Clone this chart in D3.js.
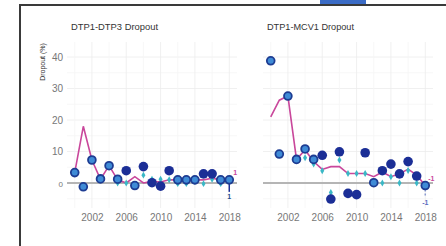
<!DOCTYPE html>
<html>
<head>
<meta charset="utf-8">
<script src="https://cdn.jsdelivr.net/npm/d3@7"></script>
<style>
  body { margin: 0; background: #fff; }
  text { font-family: "Liberation Sans", Arial, sans-serif; }
</style>
</head>
<body>
<div id="chart"></div>
<script>
// dropout panels, values
const years = d3.range(2000, 2019)
const yTicks = [0, 10, 20, 30, 40]
const xTicks = [2002, 2006, 2010, 2014, 2018]
const titles = ["DTP1-DTP3 Dropout", "DTP1-MCV1 Dropout"]

// DTP1-DTP3
const dtp3Line  = [3.3, 18, 7.3, 1.2, 5.5, 1, 0, 2, 0, 0.5, 0.3, 1, 1, 1, 1, 1, 1.5, 1, 1]
const dtp3Light = [3.3, -1.2, 7.3, 1.3, 5.5, 1.2, null, -0.8, null, null, null, null, 1, 1, 1, null, null, 1, 1]
const dtp3Dark  = [null, null, null, null, null, null, 3.9, null, 5.2, 0.1, -1, 3.9, null, null, null, 2.9, 2.9, null, null]
const dtp3Cyan  = [null, null, null, null, null, 0, 0, null, 2.5, 1.2, 1.2, 1, -0.2, -0.2, 0.5, -0.2, 1.2, -0.2, null]
const dtp3Label = ["1", "1"]

// DTP1-MCV1
const mcvLine  = [21, 26.3, 27.6, 7.5, 10.5, 6.8, 4.3, 5.2, 5.2, 3, 3, 3, 2, 3.5, 2, 2.9, 4.4, 2.5, -0.8]
const mcvLight = [38.8, 9.2, 27.6, 7.5, 10.8, 7.5, null, null, null, null, null, null, 0.1, null, null, null, null, null, -0.8]
const mcvDark  = [null, null, null, null, null, null, 8.8, -5.1, 9.9, -3.3, -3.7, 9.6, null, 3.9, 6, 2.9, 6.8, 2.2, null]
const mcvCyan  = [null, null, null, null, 8, 6, 3.9, -3, 7.3, 3, 3, 3, null, 0, 2, 0, 4, 0, null]
const mcvLabel = ["-1", "-1"]

const panels = [
  { title: titles[0], line: dtp3Line, light: dtp3Light, dark: dtp3Dark, cyan: dtp3Cyan, label: dtp3Label, x0: 67, dashed: false },
  { title: titles[1], line: mcvLine, light: mcvLight, dark: mcvDark, cyan: mcvCyan, label: mcvLabel, x0: 263, dashed: true }
]

const width = 446, height = 246
const panelW = 170
const plotTop = 42, plotBottom = 208

const svg = d3.select("#chart").append("svg")
    .attr("width", width)
    .attr("height", height)

// frame
svg.append("rect").attr("x", 320).attr("y", 0).attr("width", 46).attr("height", 4).attr("fill", "#3b6cc6")
svg.append("path")
    .attr("d", `M20,${height} V5 H${width}`)
    .attr("fill", "none").attr("stroke", "#3a3a3a").attr("stroke-width", 2)

let yScale = d3.scaleLinear()
    .domain([0, 40])
    .range([183, 57])

svg.append("text")
    .attr("transform", `translate(45,${62}) rotate(-90)`)
    .attr("text-anchor", "middle")
    .attr("font-size", 7)
    .attr("fill", "#333")
    .text("Dropout (%)")

svg.selectAll(".ytick").data(yTicks).join("text")
    .attr("class", "ytick")
    .attr("x", 63).attr("y", d => yScale(d) + 3.5)
    .attr("text-anchor", "end")
    .attr("font-size", d => d == 0 ? 8 : 10)
    .attr("fill", "#777")
    .text(d => d)

const color = { pink: "#c9479b", navy: "#1b2e96", blue: "#3f8bd6", cyan: "#3ab8c6", zero: "#b5b5b5" }

panels.forEach(p => {
    let g = svg.append("g")
    let xScale = d3.scaleLinear()
        .domain([1999.1, 2018.9])
        .range([p.x0, p.x0 + panelW])

    // grid
    let minorY = d3.range(-5, 45, 5)
    g.selectAll(".hy").data(minorY).join("line")
        .attr("x1", p.x0).attr("x2", p.x0 + panelW)
        .attr("y1", d => yScale(d)).attr("y2", d => yScale(d))
        .attr("stroke", d => d % 10 == 0 ? "#ececec" : "#f5f5f5")
        .attr("stroke-width", 0.8)
    g.selectAll(".vx").data(d3.range(2000, 2019, 2)).join("line")
        .attr("x1", d => xScale(d)).attr("x2", d => xScale(d))
        .attr("y1", plotTop).attr("y2", plotBottom)
        .attr("stroke", d => (d - 2002) % 4 == 0 ? "#ececec" : "#f5f5f5")
        .attr("stroke-width", 0.8)

    g.append("text")
        .attr("x", p.x0 + 4).attr("y", 30)
        .attr("font-size", 9).attr("fill", "#333")
        .attr("textLength", 87).attr("lengthAdjust", "spacingAndGlyphs")
        .text(p.title)

    let xAxis = d3.axisBottom(xScale).tickValues(xTicks).tickFormat(d3.format("d")).tickSize(0)
    let ax = g.append("g")
        .attr("transform", `translate(0, ${plotBottom})`)
        .call(xAxis)
    ax.select(".domain").remove()
    ax.selectAll("text").attr("font-size", 10).attr("fill", "#777").attr("dy", "0.95em")

    // zero line
    g.append("line")
        .attr("x1", p.x0).attr("x2", p.x0 + panelW)
        .attr("y1", yScale(0)).attr("y2", yScale(0))
        .attr("stroke", color.zero).attr("stroke-width", 2)

    // 2018 drop line
    let last = years.length - 1
    let lastV = p.light[last] != null ? p.light[last] : p.dark[last]
    g.append("line")
        .attr("x1", xScale(2018)).attr("x2", xScale(2018))
        .attr("y1", yScale(lastV)).attr("y2", yScale(lastV) + 12)
        .attr("stroke", p.dashed ? "#8a9ad0" : color.navy)
        .attr("stroke-width", 1.5)
        .attr("stroke-dasharray", p.dashed ? "2,2" : null)

    let line = d3.line()
        .defined(d => d[1] != null)
        .x(d => xScale(d[0]))
        .y(d => yScale(d[1]))
    g.append("path")
        .datum(years.map((y, i) => [y, p.line[i]]))
        .attr("d", line)
        .attr("fill", "none")
        .attr("stroke", color.pink)
        .attr("stroke-width", 1.6)

    let cyanPts = years.map((y, i) => [y, p.cyan[i]]).filter(d => d[1] != null)
    g.selectAll(".cy").data(cyanPts).join("path")
        .attr("d", d3.symbol(d3.symbolDiamond, 14))
        .attr("transform", d => `translate(${xScale(d[0])},${yScale(d[1])})`)
        .attr("fill", color.cyan)

    let darkPts = years.map((y, i) => [y, p.dark[i]]).filter(d => d[1] != null)
    g.selectAll(".dk").data(darkPts).join("circle")
        .attr("cx", d => xScale(d[0])).attr("cy", d => yScale(d[1]))
        .attr("r", 4.8)
        .attr("fill", color.navy)

    let lightPts = years.map((y, i) => [y, p.light[i]]).filter(d => d[1] != null)
    g.selectAll(".lt").data(lightPts).join("circle")
        .attr("cx", d => xScale(d[0])).attr("cy", d => yScale(d[1]))
        .attr("r", 3.9)
        .attr("fill", color.blue)
        .attr("stroke", "#1d3c92")
        .attr("stroke-width", 1.8)

    g.append("text")
        .attr("x", xScale(2018) + 6).attr("y", yScale(p.line[last]) - 5)
        .attr("text-anchor", "middle")
        .attr("font-size", 7).attr("font-weight", "bold").attr("fill", color.pink)
        .text(p.label[0])
    g.append("text")
        .attr("x", xScale(2018)).attr("y", yScale(lastV) + 19)
        .attr("text-anchor", "middle")
        .attr("font-size", 7).attr("font-weight", "bold").attr("fill", p.dashed ? "#5a6cc0" : "#1f4f8f")
        .text(p.label[1])
})
</script>
</body>
</html>
